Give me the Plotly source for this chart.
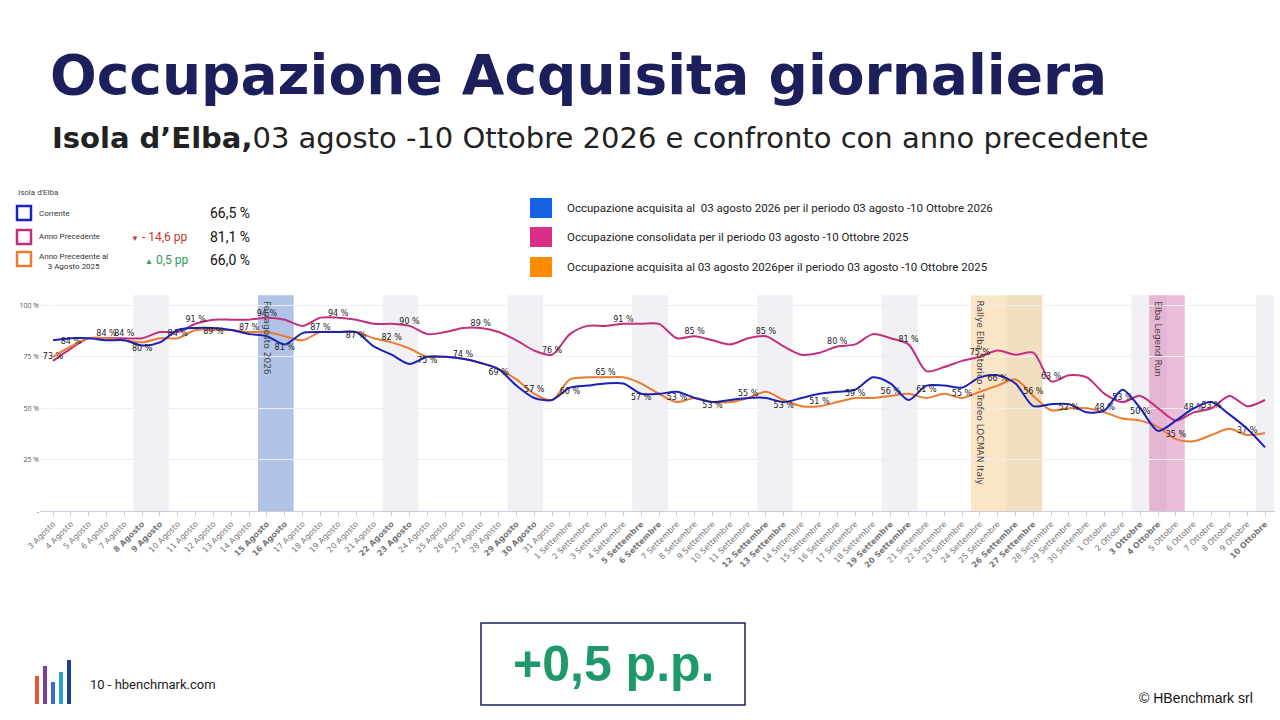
import plotly.graph_objects as go

days = ([f"{d} Agosto" for d in range(3, 32)] + [f"{d} Settembre" for d in range(1, 31)]
        + [f"{d} Ottobre" for d in range(1, 11)])
weekend_idx = [5, 6, 12, 13, 19, 20, 26, 27, 33, 34, 40, 41, 47, 48, 54, 55, 61, 62, 68]

corrente = [83, 84, 84, 83, 83, 80.5, 82, 88, 89, 89, 88, 86, 85, 81, 86.5, 87, 87, 87, 80, 76, 71.5, 75,
            75, 74, 72, 69, 61, 55, 54, 60, 61, 62, 62, 57, 57, 58, 55, 53, 54, 55, 55, 53, 55, 57, 58,
            59, 65, 62, 54, 61, 61, 60, 65, 66, 62, 51, 52, 52, 48, 49, 59, 50, 39, 44, 50, 53, 47, 40, 31]
precedente = [73, 79, 84, 84, 84, 84, 87, 87, 91, 93, 93, 93, 94, 93, 90, 94, 94, 93, 91, 91, 90, 86,
              87, 89, 89, 87, 83, 78, 76, 86, 90, 90, 91, 91, 91, 84, 85, 83, 81, 84, 85, 80, 76, 77, 80,
              81, 86, 84, 81, 68, 70, 73, 75, 78, 76, 77, 63, 66, 65, 57, 53, 56, 50, 44, 48, 50, 56, 51, 54]
prec_al = [75, 80, 84, 84, 83, 82, 84, 84, 88, 88, 88, 87, 87, 85, 83, 87, 87, 87, 84, 82, 79, 75,
           75, 74, 72, 69, 64, 57, 54, 64, 65, 65, 65, 62, 57, 53, 55, 53, 53, 55, 58, 54, 51, 51, 53,
           55, 55, 56, 57, 55, 57, 55, 58, 61, 64, 56, 49, 50, 50, 48, 45, 44, 41, 35, 34, 37, 40, 37, 38]

x = list(range(len(days)))
C_BLUE, C_MAG, C_ORA = "#1a22b8", "#c42f7d", "#ec7a30"

def lab(vals, offset):
    return [f"{round(v)} %" if (i + offset) % 4 == 0 and i < len(vals) - 1 else "" for i, v in enumerate(vals)]

fig = go.Figure()
for name, vals, col, off, pos in [("Anno Precedente", precedente, C_MAG, 0, "top center"),
                                  ("Anno Precedente al 3 Agosto 2025", prec_al, C_ORA, 1, "top center"),
                                  ("Corrente", corrente, C_BLUE, 3, "bottom center")]:
    fig.add_trace(go.Scatter(x=x, y=vals, mode="lines+text", name=name,
                             line=dict(color=col, width=2, shape="spline", smoothing=0.8),
                             text=lab(vals, off), textposition=pos,
                             textfont=dict(size=8, color="#222", family="DejaVu Sans"),
                             cliponaxis=False, showlegend=False))

shapes = []
for i in weekend_idx:
    shapes.append(dict(type="rect", xref="x", yref="paper", x0=i - 0.5, x1=i + 0.5, y0=0.29, y1=0.59,
                       fillcolor="rgba(225,225,235,0.5)", line_width=0, layer="below"))
shapes.append(dict(type="rect", xref="x", yref="paper", x0=11.5, x1=13.5, y0=0.29, y1=0.59,
                   fillcolor="rgba(100,140,215,0.45)", line_width=0, layer="below"))
shapes.append(dict(type="rect", xref="x", yref="paper", x0=51.5, x1=55.5, y0=0.29, y1=0.59,
                   fillcolor="rgba(245,200,130,0.45)", line_width=0, layer="below"))
shapes.append(dict(type="rect", xref="x", yref="paper", x0=61.5, x1=63.5, y0=0.29, y1=0.59,
                   fillcolor="rgba(215,110,170,0.45)", line_width=0, layer="below"))

def px(xp, yp):
    return xp / 1280, 1 - yp / 720

def box(x0, y0, x1, y1, fill, line="rgba(0,0,0,0)", w=0):
    a, b = px(x0, y1); c, d = px(x1, y0)
    shapes.append(dict(type="rect", xref="paper", yref="paper", x0=a, y0=b, x1=c, y1=d,
                       fillcolor=fill, line=dict(color=line, width=w)))

ann = []
def txt(xp, yp, s, size, color="#222", anchor="left", bold=False, fam="Lato", va="middle", angle=0):
    a, b = px(xp, yp)
    ann.append(dict(xref="paper", yref="paper", x=a, y=b, text=f"<b>{s}</b>" if bold else s,
                    showarrow=False, xanchor=anchor, yanchor=va, textangle=angle,
                    font=dict(size=size, color=color, family=fam)))

txt(48, 75, "Occupazione Acquisita giornaliera", 55, "#1c1f5c", bold=True, fam="DejaVu Sans")
txt(50, 138, "<b>Isola d’Elba,</b>03 agosto -10 Ottobre 2026 e confronto con anno precedente", 29, "#222",
    fam="DejaVu Sans")

# left legend
txt(16, 193, "Isola d'Elba", 8, "#444", fam="Roboto")
for yy, col, label in [(213, C_BLUE, "Corrente"), (237, C_MAG, "Anno Precedente")]:
    box(17, yy - 7, 31, yy + 7, "white", col, 2.5)
    txt(37, yy, label, 8, "#333", fam="Roboto")
box(17, 252, 31, 266, "white", C_ORA, 2.5)
txt(37, 261, "Anno Precedente al<br>3 Agosto 2025", 8, "#333", fam="Roboto")
txt(252, 213, "66,5 %", 14, "#111", anchor="right", fam="Roboto")
txt(252, 237, "81,1 %", 14, "#111", anchor="right", fam="Roboto")
txt(252, 260, "66,0 %", 14, "#111", anchor="right", fam="Roboto")
txt(190, 237, "<span style='font-size:8px'>▼</span> - 14,6 pp", 12, "#c0392b", anchor="right", fam="Roboto")
txt(190, 260, "<span style='font-size:8px'>▲</span> 0,5 pp", 12, "#2e9a5a", anchor="right", fam="Roboto")

# right legend
for yy, col, label in [(208, "#1463e6", "Occupazione acquisita al  03 agosto 2026 per il periodo 03 agosto -10 Ottobre 2026"),
                       (237, "#d92f86", "Occupazione consolidata per il periodo 03 agosto -10 Ottobre 2025"),
                       (267, "#ff8c00", "Occupazione acquisita al 03 agosto 2026per il periodo 03 agosto -10 Ottobre 2025")]:
    box(530, yy - 10, 552, yy + 10, col)
    txt(565, yy, label, 11.5, "#222", fam="Roboto")

def vlabel(xi, s):
    ann.append(dict(xref="x", yref="paper", x=xi, y=0.585, text=s, showarrow=False, textangle=90,
                    xanchor="center", yanchor="top", font=dict(size=9, color="#444", family="DejaVu Sans")))
vlabel(12, "Ferragosto 2026")
vlabel(52, "Rallye Elba Storico - Trofeo LOCMAN Italy")
vlabel(62, "Elba Legend Run")

box(481, 623, 745, 705, "white", "#1c1f5c", 1.5)
txt(613, 664, "+0,5 p.p.", 50, "#1e9a6a", anchor="center", bold=True, fam="Liberation Sans")
for k, (h, c) in enumerate([(28, "#e8553a"), (38, "#7b3fa0"), (22, "#3a6ad8"), (32, "#25a0d8"), (44, "#1c3f9a")]):
    box(35 + k * 8, 704 - h, 39 + k * 8, 704, c)
txt(88, 684, "10 - hbenchmark.com", 13, "#222", fam="Roboto")
txt(1255, 698, "© HBenchmark srl", 14, "#111", anchor="right", fam="Liberation Sans")

ticktext = [f"<b>{d}</b>" if i in weekend_idx else d for i, d in enumerate(days)]
fig.update_layout(
    width=1280, height=720, margin=dict(l=0, r=0, t=0, b=0, autoexpand=False),
    paper_bgcolor="white", plot_bgcolor="white", shapes=shapes, annotations=ann,
    xaxis=dict(domain=[40 / 1280, 1275 / 1280], range=[-0.73, 68.56], tickvals=x, ticktext=ticktext,
               tickangle=-45, tickfont=dict(size=8, color="#777", family="DejaVu Sans"), automargin=False,
               showgrid=False, showline=True, linecolor="#ccd", ticks="outside", ticklen=4, tickcolor="#ccd"),
    yaxis=dict(domain=[0.29, 0.59], range=[0, 104.9], tickvals=[0, 25, 50, 75, 100], automargin=False,
               ticktext=["-", "25 %", "50 %", "75 %", "100 %"], tickfont=dict(size=7, color="#555"),
               gridcolor="#eeeef2", zeroline=False),
)
fig.write_html("out.html", config={"displayModeBar": False},
               post_script="document.body.style.margin='0';document.body.style.overflow='hidden';")
